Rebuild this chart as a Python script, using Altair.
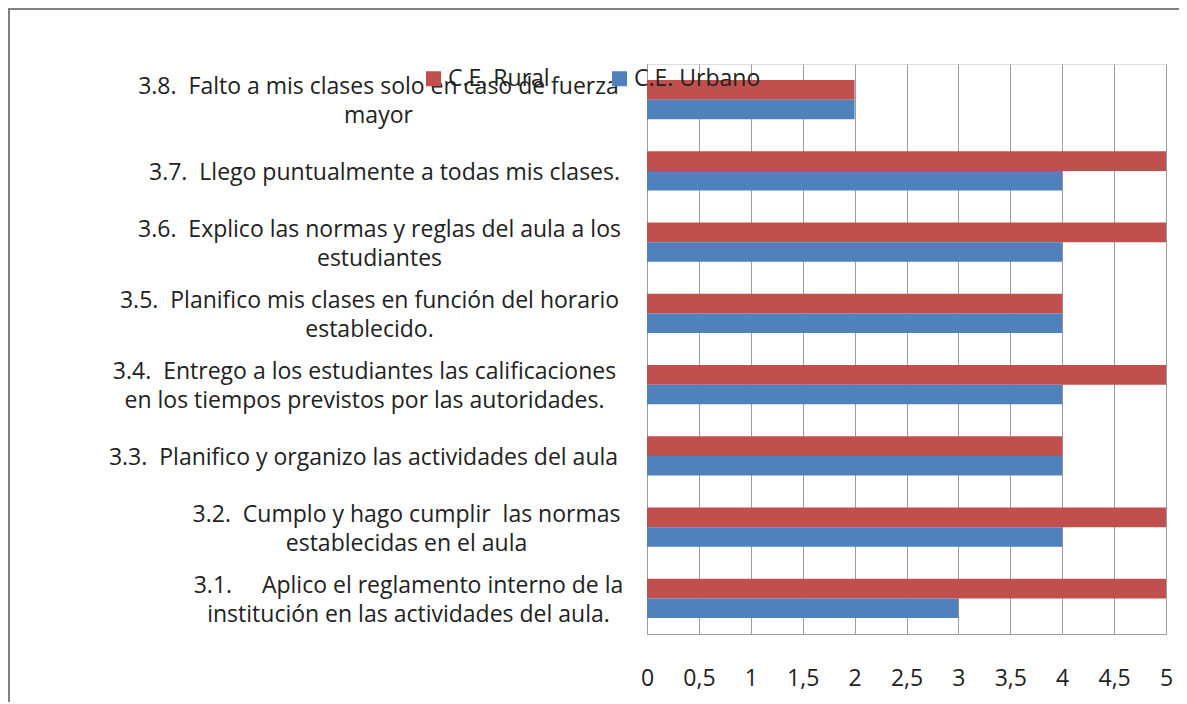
import altair as alt
import pandas as pd

# Categories (bottom to top as in the source list), "|" marks a line break
questions = [
    "3.1.\u00a0\u00a0\u00a0\u00a0 Aplico el reglamento interno de la|institución en las actividades del aula.",
    "3.2.\u00a0 Cumplo y hago cumplir\u00a0 las normas|establecidas en el aula",
    "3.3.\u00a0 Planifico y organizo las actividades del aula",
    "3.4.\u00a0 Entrego a los estudiantes las calificaciones|en los tiempos previstos por las autoridades.",
    "3.5.\u00a0 Planifico mis clases en función del horario|establecido.",
    "3.6.\u00a0 Explico las normas y reglas del aula a los|estudiantes",
    "3.7.\u00a0 Llego puntualmente a todas mis clases.",
    "3.8.\u00a0 Falto a mis clases solo en caso de fuerza|mayor",
]
series = ["C.E. Rural", "C.E. Urbano"]
rural = [5, 5, 4, 5, 4, 5, 5, 2]
urbano = [3, 4, 4, 4, 4, 4, 4, 2]
x_ticks = [0, 0.5, 1, 1.5, 2, 2.5, 3, 3.5, 4, 4.5, 5]
colors = ["#C0504D", "#4F81BD"]

rows = []
for q, r, u in zip(questions, rural, urbano):
    rows.append({"pregunta": q, "serie": series[0], "valor": r})
    rows.append({"pregunta": q, "serie": series[1], "valor": u})
df = pd.DataFrame(rows)

# horizontal distance from the axis to the centre of each label block
pad_by_code = {"3.8": 269, "3.7": 263, "3.6": 268, "3.5": 278,
               "3.4": 283, "3.3": 284, "3.2": 241, "3.1": 239}
pad_cond = [{"test": f"slice(datum.value, 0, 3) === '{c}'", "value": p}
            for c, p in pad_by_code.items()]
LINE_H = 29
off_cond = {"condition": {"test": "indexof(datum.value, '|') >= 0", "value": -12.5},
            "value": 2.5}

FONT = "Open Sans"
FS = 23
TXT = "#222222"
GRID = "#9c9c9c"

bars = alt.Chart(df).mark_bar().encode(
    x=alt.X("valor:Q", scale=alt.Scale(domain=[0, 5], nice=False),
            axis=alt.Axis(values=x_ticks, title=None, grid=True, gridColor=GRID,
                          gridWidth=1, ticks=False, domainColor=GRID, domainWidth=1,
                          labelExpr="replace(toString(datum.value), '.', ',')",
                          labelFlush=False,
                          labelFont=FONT, labelFontSize=FS, labelColor=TXT,
                          labelBaseline="middle", labelPadding=44)),
    y=alt.Y("pregunta:N", sort=questions[::-1],
            scale=alt.Scale(paddingInner=0.45, paddingOuter=0.225),
            axis=alt.Axis(title=None, ticks=False, domainColor=GRID, domainWidth=1,
                          labelExpr="split(datum.label, '|')",
                          labelAlign="center", labelBaseline="middle",
                          labelPadding={"condition": pad_cond, "value": 260},
                          labelOffset=off_cond,
                          labelFont=FONT, labelFontSize=FS, labelColor=TXT,
                          labelLineHeight=LINE_H, labelLimit=0)),
    yOffset=alt.YOffset("serie:N", sort=series),
    color=alt.Color("serie:N", sort=series,
                    scale=alt.Scale(domain=series, range=colors),
                    legend=alt.Legend(title=None, orient="none", direction="horizontal",
                                      legendX=-225, legendY=3, symbolType="square",
                                      symbolSize=225, symbolStrokeWidth=0,
                                      symbolOpacity=1, labelFont=FONT,
                                      labelFontSize=FS, labelColor=TXT,
                                      labelOffset=3, columnPadding=58)),
)

frame = alt.Chart(alt.Data(values=[{}])).mark_rect(
    fill=None, stroke="#808080", strokeWidth=2
).encode(
    x=alt.value(-638), x2=alt.value(600), y=alt.value(-55), y2=alt.value(760)
)

chart = alt.layer(bars, frame).properties(
    width=519, height=570,
    autosize=alt.AutoSizeParams(type="none"),
    padding={"left": 639, "top": 56, "right": 13, "bottom": 68},
).configure_view(stroke=None).configure(background="white")

chart.save("out.html", embed_options={"renderer": "svg", "actions": False})
